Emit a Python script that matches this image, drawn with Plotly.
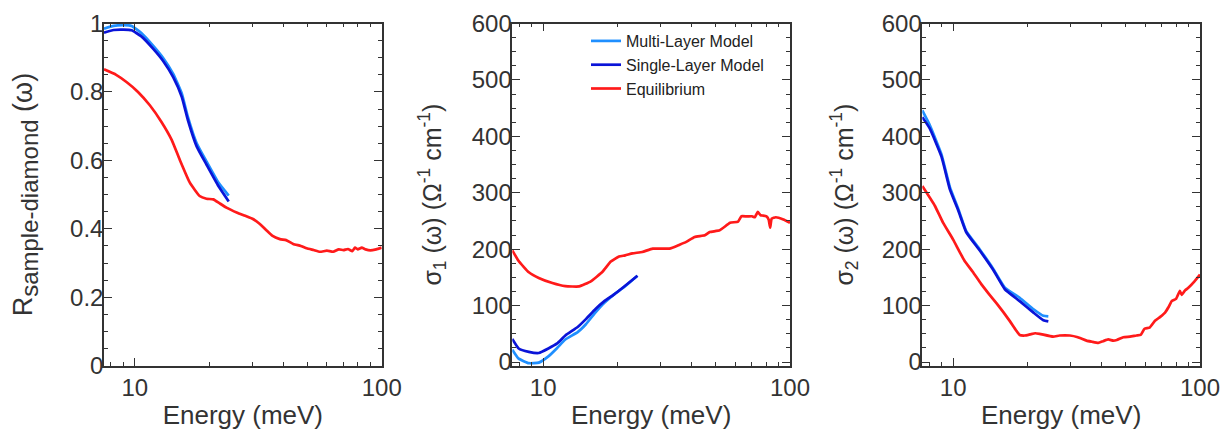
import numpy as np
import plotly.graph_objects as go

# ---------------- data ----------------
# Panel 1: reflectance
E_R_model = [7.5, 8.2, 9.0, 9.7, 10.6, 11.9, 13.0, 14.3, 15.5, 16.4, 17.8, 19.5, 21.8, 24.0]
R_multi = [0.985, 0.993, 0.995, 0.993, 0.973, 0.934, 0.90, 0.853, 0.795, 0.727, 0.65, 0.597, 0.535, 0.497]
R_single = [0.973, 0.981, 0.982, 0.980, 0.963, 0.925, 0.891, 0.843, 0.785, 0.718, 0.641, 0.588, 0.525, 0.48]
E_R_eq = [7.5, 8.4, 9.25, 10.3, 11.5, 12.8, 14.1, 15.2, 16.7, 18.3, 19.5, 20.8, 22, 23.5, 26, 28,
          30.2, 32, 34.2, 36, 38.7, 41, 43.8, 47, 49.7, 53, 56.2, 60, 63.6, 67, 70, 73, 76, 78,
          80, 83, 86, 90, 95, 100]
R_eq = [0.866, 0.85, 0.829, 0.80, 0.761, 0.713, 0.66, 0.602, 0.535, 0.496, 0.488, 0.486, 0.475,
        0.462, 0.447, 0.438, 0.428, 0.415, 0.395, 0.38, 0.37, 0.367, 0.356, 0.35, 0.343, 0.338,
        0.333, 0.336, 0.333, 0.34, 0.338, 0.341, 0.335, 0.345, 0.34, 0.345, 0.34, 0.337, 0.34, 0.345]

# Panel 2: sigma_1
E_s1_model = [7.5, 7.96, 8.75, 9.6, 10.5, 11.4, 12.3, 13.8, 14.9, 16.3, 17.7, 19.4, 21.3, 24.1]
s1_multi = [22, 6, -2, -1, 10, 25, 40, 53, 67, 88, 105, 120, 133, 153]
s1_single = [41, 24, 18, 16, 24, 33, 47, 62, 76, 94, 108, 120, 134, 153]
E_s1_eq = [7.5, 7.96, 8.75, 9.6, 10.9, 12.3, 14.0, 15.6, 17.4, 18.8, 20.3, 21.5, 23, 25.2, 27.8,
           32.5, 35.7, 38, 41.1, 45.2, 47.3, 51.9, 57.2, 61.6, 63.6, 67, 70.2, 72, 74, 76, 77.8,
           80.3, 82, 83.1, 84.3, 87.6, 94, 100]
s1_eq = [198, 179, 159, 149, 140, 134.5, 134, 143, 160, 178, 187, 189, 192.6, 195, 201, 201, 208,
         213, 221.7, 224.7, 230.4, 233.4, 246.7, 249, 258.4, 258, 258.4, 256.6, 266, 260, 259.6,
         258, 252, 238, 254, 256.6, 252.6, 246.7]

# Panel 3: sigma_2
E_s2_model = [7.5, 8.04, 8.97, 9.7, 10.5, 11.3, 12.8, 14.5, 16.2, 18.6, 21.1, 23.2, 24.3]
s2_multi = [446, 420, 368, 310, 271, 232, 200, 166, 132, 114, 94, 82, 81]
s2_single = [434, 414, 364, 306, 268, 230, 198, 164, 129, 108, 88, 74, 72]
E_s2_eq = [7.5, 8.43, 9.1, 10, 11.1, 12, 13, 14, 15, 16, 17, 18, 18.6, 19.5, 20.5, 21.5, 22.4,
           25.4, 27, 29.7, 32, 34.7, 36.5, 38.7, 40.5, 42.5, 44.5, 46, 48.9, 52, 55.3, 57.5, 59.6,
           62.5, 65.7, 69, 72.3, 74.5, 76.8, 80, 82.9, 84.3, 87, 89.9, 95, 100]
s2_eq = [312, 277, 247, 217, 180, 160, 138, 120, 104, 88, 72, 56, 48, 47, 49, 51, 50, 45, 47, 47,
         44, 38, 36, 34, 37, 40, 38, 39, 44, 45, 47, 48, 59, 61, 73, 80, 88, 97, 108, 112, 126,
         119, 127, 132, 143, 155]

x_ticks = [10, 100]
x_minor = [8, 9, 20, 30, 40, 50, 60, 70, 80, 90]
names = ["Multi-Layer Model", "Single-Layer Model", "Equilibrium"]
colors = ["#1f8fff", "#0a14d8", "#ff1a1a"]

# ---------------- figure ----------------
# the page body has an 8px margin, so the figure is 8px smaller than the window
W, H = 1224, 428
fig = go.Figure()

panels = [
    ("x", "y", E_R_model, R_multi, R_single, E_R_eq, R_eq),
    ("x2", "y2", E_s1_model, s1_multi, s1_single, E_s1_eq, s1_eq),
    ("x3", "y3", E_s2_model, s2_multi, s2_single, E_s2_eq, s2_eq),
]
for i, (xa, ya, em, ml, sl, ee, eq) in enumerate(panels):
    for name, col, xs, ys in [(names[0], colors[0], em, ml), (names[1], colors[1], em, sl),
                              (names[2], colors[2], ee, eq)]:
        fig.add_trace(go.Scatter(x=xs, y=ys, xaxis=xa, yaxis=ya, mode="lines", name=name,
                                 line=dict(color=col, width=2.7, shape="spline", smoothing=0.4),
                                 showlegend=(i == 1)))

font_fam = "Liberation Sans, Arial, Helvetica, sans-serif"
tick_color = "#333333"
common = dict(showline=True, linecolor=tick_color, linewidth=1.5, mirror="allticks",
              ticks="inside", ticklen=8, tickwidth=1.3, tickcolor=tick_color,
              tickfont=dict(family=font_fam, size=24, color=tick_color),
              ticklabeloverflow="allow",
              showgrid=False, zeroline=False, automargin=False)

xdoms = [(96, 373.7), (504.3, 782), (914.3, 1192)]
ydom = [1 - 357.7 / H, 1 - 15.5 / H]
yranges = [[0, 1], [-6.5, 600], [-6.5, 600]]
ytitles = ["R<sub><span style='font-size:24px'>sample-diamond</span></sub> (ω)",
           "σ<sub>1</sub> (ω) (Ω<sup>-1</sup> cm<sup>-1</sup>)",
           "σ<sub>2</sub> (ω) (Ω<sup>-1</sup> cm<sup>-1</sup>)"]
ytitle_size = [27, 25, 25]
ymajor = [dict(tickvals=[0, 0.2, 0.4, 0.6, 0.8, 1], ticktext=["0", "0.2", "0.4", "0.6", "0.8", "1"]),
          dict(tickvals=[0, 100, 200, 300, 400, 500, 600]),
          dict(tickvals=[0, 100, 200, 300, 400, 500, 600])]
yminor = [0.05, 25, 25]
ystand = [31, 23, 21]

for i in range(3):
    sfx = "" if i == 0 else str(i + 1)
    fig.update_layout(**{
        "xaxis" + sfx: dict(common, type="log", range=[np.log10(7.5), 2],
                            domain=[xdoms[i][0] / W, xdoms[i][1] / W],
                            anchor="y" + sfx, tickmode="array", tickvals=x_ticks,
                            ticktext=[str(v) for v in x_ticks],
                            minor=dict(tickmode="array", tickvals=x_minor, ticks="inside",
                                       ticklen=4, tickwidth=1.2, tickcolor=tick_color, showgrid=False),
                            title=dict(text="Energy (meV)", standoff=6,
                                       font=dict(family=font_fam, size=26, color=tick_color))),
        "yaxis" + sfx: dict(common, range=yranges[i], domain=ydom, anchor="x" + sfx,
                            tickmode="array", **ymajor[i], ticklabelstandoff=-6,
                            minor=dict(dtick=yminor[i], ticks="inside", ticklen=4, tickwidth=1.2,
                                       tickcolor=tick_color, showgrid=False),
                            title=dict(text=ytitles[i], standoff=ystand[i],
                                       font=dict(family=font_fam, size=ytitle_size[i],
                                                 color=tick_color))),
    })

fig.update_layout(
    width=W, height=H, margin=dict(l=0, r=0, t=0, b=0, autoexpand=False),
    paper_bgcolor="white", plot_bgcolor="white",
    font=dict(family=font_fam, color=tick_color),
    legend=dict(x=578 / W, y=1 - 16 / H, xanchor="left", yanchor="top",
                font=dict(family=font_fam, size=16, color="#222"),
                bgcolor="rgba(0,0,0,0)", itemwidth=30, tracegroupgap=0),
)

fig.write_html("out.html")
